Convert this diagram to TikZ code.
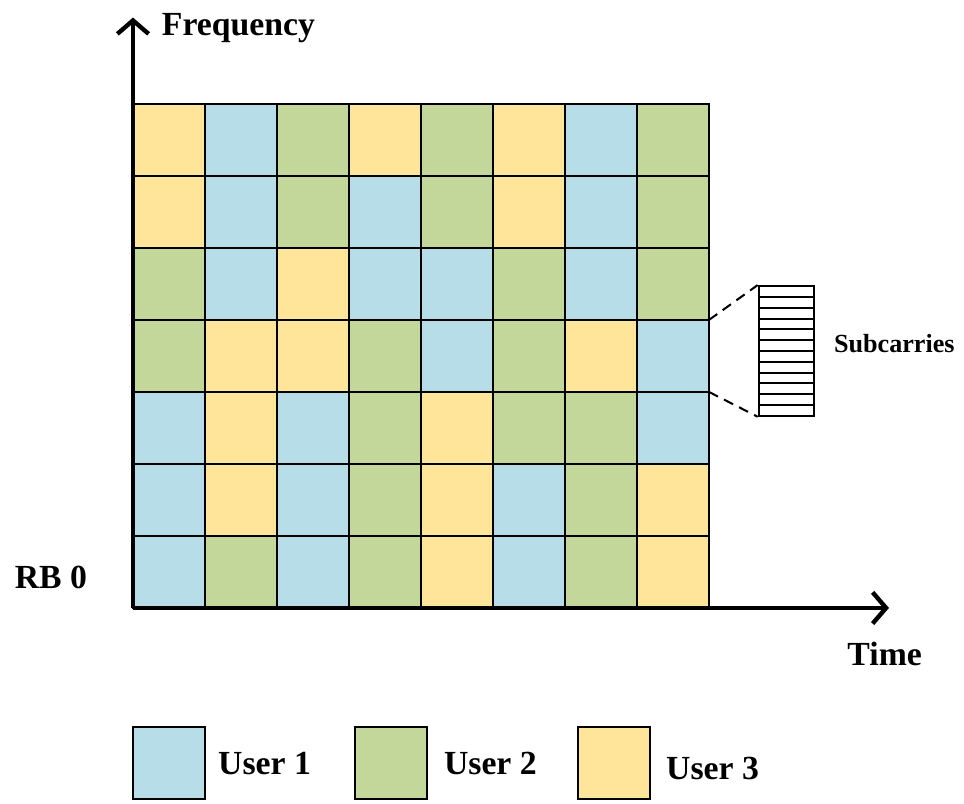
\documentclass[tikz,border=0pt]{standalone}
\usepackage{fontspec}
\setmainfont{Liberation Serif}
\usetikzlibrary{arrows.meta, positioning}
\definecolor{uB}{HTML}{B7DDE8}
\definecolor{uG}{HTML}{C4D79B}
\definecolor{uY}{HTML}{FFE599}
\pgfmathsetmacro{\blk}{1.5}

\begin{document}
\begin{tikzpicture}[x=\blk cm, y=\blk cm, font=\bfseries\fontsize{20}{24}\selectfont]
	\useasboundingbox (-1.847,-2.722) rectangle (11.542,8.444);
	% resource blocks, top row first
	\foreach \r [count=\j] in {{Y,B,G,Y,G,Y,B,G},{Y,B,G,B,G,Y,B,G},{G,B,Y,B,B,G,B,G},{G,Y,Y,G,B,G,Y,B},{B,Y,B,G,Y,G,G,B},{B,Y,B,G,Y,B,G,Y},{B,G,B,G,Y,B,G,Y}}
		\foreach \c [count=\i] in \r
			\draw[line width=1.2pt, fill=u\c] (\i-1, 7-\j) rectangle ++(1, 1);
	\coordinate (O) at (0, 0);
	\coordinate (ftip) at (0, 8.2);
	\coordinate (ttip) at (10.5, 0);
	\draw[line width=2.6pt, arrows = {-Straight Barb[length=2.8mm, width=6.5mm]}] (O) -- (ftip);
	\draw[line width=2.6pt, arrows = {-Straight Barb[length=2.8mm, width=6.5mm]}] (O) -- (ttip);
	\node[anchor=west] (freq) at (0.32, 8.06) {Frequency};
	\node (time) at (10.44, -0.64) {Time};
	\node (rb) at (-1.14, 0.43) {RB 0};
	% zoomed block
	\coordinate (zt) at (8, 4);
	\coordinate (zb) at (8, 3);
	\node[draw, line width=1.2pt, minimum width=0.77*\blk cm, minimum height=1.8*\blk cm, inner sep=0] (sub) at (9.075, 3.57) {};
	\foreach \k in {1,...,11}
		\draw[line width=1.2pt] (8.69, 2.67+0.15*\k) -- ++(0.77, 0);
	\draw[dashed, line width=1.2pt, dash pattern=on 6pt off 4pt] (zt) -- (sub.north west);
	\draw[dashed, line width=1.2pt, dash pattern=on 6pt off 4pt] (zb) -- (sub.south west);
	\node[right=0.27cm of sub, yshift=0.15cm, font=\bfseries\fontsize{15.5}{18}\selectfont] (subl) {Subcarries};
	% legend
	\node[draw, line width=1.2pt, fill=uB, minimum size=\blk cm, inner sep=0] (u1) at (0.5, -2.16) {};
	\node[draw, line width=1.2pt, fill=uG, minimum size=\blk cm, inner sep=0] (u2) at (3.59, -2.16) {};
	\node[draw, line width=1.2pt, fill=uY, minimum size=\blk cm, inner sep=0] (u3) at (6.675, -2.16) {};
	\node[right=0.13cm of u1] (l1) {User 1};
	\node[right=0.2cm of u2] (l2) {User 2};
	\node[right=0.2cm of u3, yshift=-0.1cm] (l3) {User 3};
\end{tikzpicture}
\end{document}
